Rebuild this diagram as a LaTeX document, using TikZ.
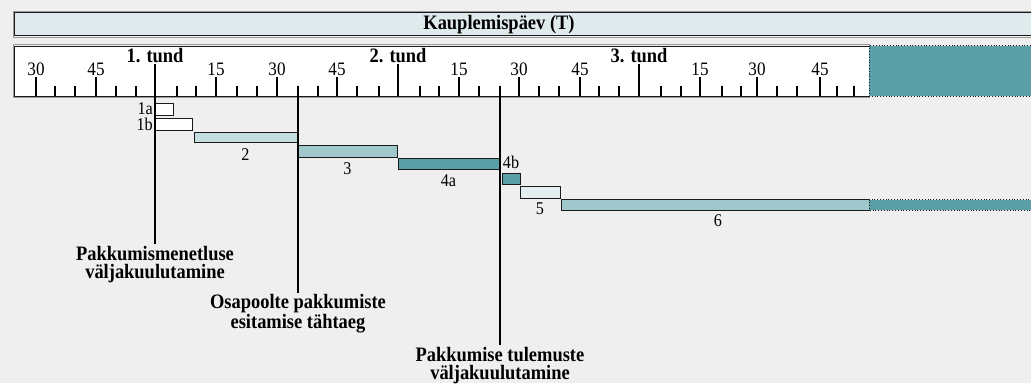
\documentclass[tikz,border=0pt]{standalone}
\usepackage{fontspec}
\setmainfont{Liberation Serif}[FakeStretch=0.9]
\definecolor{bg}{HTML}{EFEFEF}
\definecolor{topfill}{HTML}{DFEAED}
\definecolor{teal}{HTML}{5A9EA8}
\definecolor{midfill}{HTML}{A0C8CC}
\definecolor{lightfill}{HTML}{C5DEE1}
\definecolor{palefill}{HTML}{E3EEF0}
\definecolor{ink}{HTML}{1A1A1A}
\definecolor{shade}{HTML}{9A9A9A}
\tikzset{
  frame/.style={draw=ink, line width=1pt},
  outerframe/.style={draw=shade, line width=1pt},
  tickline/.style={draw=black, line width=2pt},
  vline/.style={draw=black, line width=2pt},
  barbox/.style={draw=ink, line width=0.9pt, anchor=north west, inner sep=0pt, outer sep=0pt},
  dotbox/.style={draw=ink, line width=0.8pt, dotted, fill=teal},
  num/.style={font=\fontsize{19}{19}\selectfont, inner sep=0pt},
  hourlbl/.style={font=\fontsize{20.5}{20.5}\selectfont\bfseries, inner sep=0pt},
  barlbl/.style={font=\fontsize{18}{18}\selectfont, inner sep=0pt},
  event/.style={font=\fontsize{20.5}{18.5}\selectfont\bfseries, align=center, anchor=north, inner sep=2pt}
}
\begin{document}
\begin{tikzpicture}[x=1pt,y=-1pt]
\useasboundingbox[fill=bg] (0,0) rectangle (1031,383);
% top bar
\path[outerframe] (13,11) rectangle (1045,37);
\path[frame, fill=topfill] (14.5,12.5) rectangle (1045,35.5);
\node[hourlbl] (title) at (499,25) {Kauplemispäev (T)};
% timeline
\path[outerframe] (13,44.5) rectangle (869,97);
\path[frame, fill=white] (14.5,46) rectangle (869,96);
\path[dotbox] (869,45.5) rectangle (1045,96);
% minor ticks
\foreach \x in {55,75,116,136,177,196,237,257,298,318,357,379,420,439,479,500,539,559,599,619,661,681,722,741,777,797,837,854}
  \draw[tickline] (\x,86) -- (\x,96);
% major ticks
\foreach \x/\l in {36/30,96/45,216/15,277/30,337/45,459/15,519/30,580/45,700/15,757/30,820/45} {
  \draw[tickline] (\x,77) -- (\x,96);
  \node[num] (n\x) at (\x,69.5) {\l};
}
% hour ticks
\foreach \x/\l in {155/1,398/2,639/3} {
  \draw[tickline] (\x,64) -- (\x,96);
  \node[hourlbl] (h\l) at (\x,55.5) {\l. tund};
}
% bars
\node[barbox, fill=white, minimum width=18pt, minimum height=12pt] (b1a) at (155,103) {};
\node[barbox, fill=white, minimum width=37pt, minimum height=12pt] (b1b) at (155,118) {};
\node[barbox, fill=lightfill, minimum width=103pt, minimum height=10pt] (b2) at (194,132.5) {};
\node[barbox, fill=midfill, minimum width=99pt, minimum height=12pt] (b3) at (298,145) {};
\node[barbox, fill=teal, minimum width=101pt, minimum height=11pt] (b4a) at (398,158) {};
\node[barbox, fill=teal, minimum width=18pt, minimum height=11.5pt] (b4b) at (502,173) {};
\node[barbox, fill=palefill, minimum width=40pt, minimum height=12pt] (b5) at (520,186) {};
\node[barbox, fill=midfill, minimum width=308pt, minimum height=10.5pt] (b6) at (561,199.5) {};
\path[dotbox] (869,199.5) rectangle (1045,210);
% bar labels
\node[barlbl, anchor=east] (l1a) at ([xshift=-2pt,yshift=0.5pt]b1a.west) {1a};
\node[barlbl, anchor=east] (l1b) at ([xshift=-2pt,yshift=-0.5pt]b1b.west) {1b};
\node[barlbl] (l2) at ([yshift=-12pt]b2.south) {2};
\node[barlbl] (l3) at ([yshift=-12pt]b3.south) {3};
\node[barlbl] (l4a) at ([yshift=-11.5pt]b4a.south) {4a};
\node[barlbl] (l4b) at ([yshift=10.5pt]b4b.north) {4b};
\node[barlbl] (l5) at ([yshift=-11pt]b5.south) {5};
\node[barlbl] (l6) at ([xshift=3pt,yshift=-11pt]b6.south) {6};
% event markers
\coordinate (m1) at (155,64);
\coordinate (m2) at (298,86);
\coordinate (m3) at (500,86);
\node[event] (e1) at (155,244) {Pakkumismenetluse\\väljakuulutamine};
\node[event] (e2) at (298,292.5) {Osapoolte pakkumiste\\esitamise tähtaeg};
\node[event] (e3) at (500,345) {Pakkumise tulemuste\\väljakuulutamine};
\draw[vline] (m1) -- (e1.north);
\draw[vline] (m2) -- (e2.north);
\draw[vline] (m3) -- (e3.north);
\end{tikzpicture}
\end{document}
